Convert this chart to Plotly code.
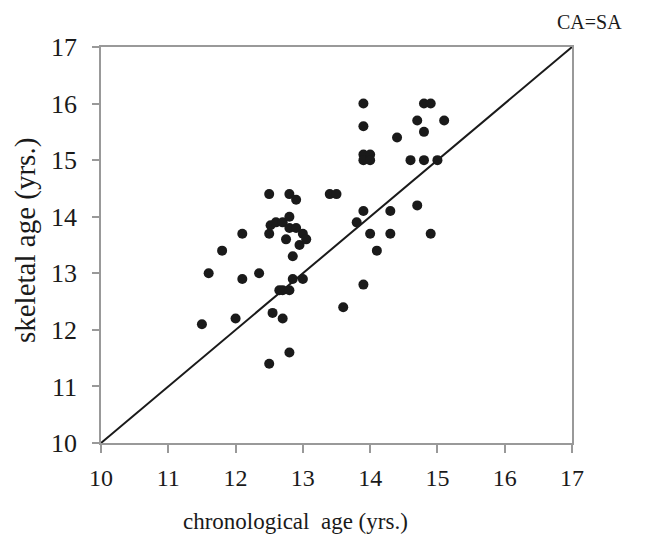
import plotly.graph_objects as go

chron_age = [11.5, 11.6, 11.8, 12.0, 12.1, 12.1, 12.35, 12.5, 12.5, 12.55,
             12.5, 12.52, 12.6, 12.7, 12.65, 12.7, 12.8, 12.7, 12.75, 12.8,
             12.8, 12.8, 12.8, 12.85, 12.85, 12.9, 12.9, 12.95, 13.0, 13.0,
             13.05, 13.4, 13.5, 13.6, 13.8, 13.9, 13.9, 13.9, 14.0, 13.9,
             14.0, 13.9, 13.9, 14.0, 14.1, 14.3, 14.3, 14.4, 14.6, 14.7,
             14.7, 14.8, 14.9, 14.8, 14.8, 15.0, 15.1, 14.9]
skel_age = [12.1, 13.0, 13.4, 12.2, 12.9, 13.7, 13.0, 14.4, 11.4, 12.3,
            13.7, 13.85, 13.9, 13.9, 12.7, 12.7, 12.7, 12.2, 13.6, 14.4,
            14.0, 13.8, 11.6, 12.9, 13.3, 14.3, 13.8, 13.5, 13.7, 12.9,
            13.6, 14.4, 14.4, 12.4, 13.9, 16.0, 15.6, 15.1, 15.1, 15.0,
            15.0, 14.1, 12.8, 13.7, 13.4, 14.1, 13.7, 15.4, 15.0, 15.7,
            14.2, 16.0, 16.0, 15.5, 15.0, 15.0, 15.7, 13.7]
identity = [10, 17]
ticks = [10, 11, 12, 13, 14, 15, 16, 17]

font = "Liberation Serif, Times New Roman, serif"
ink = "#1a1a1a"

fig = go.Figure()
fig.add_trace(go.Scatter(x=identity, y=identity, mode="lines",
                         line=dict(color=ink, width=2), showlegend=False))
fig.add_trace(go.Scatter(x=chron_age, y=skel_age, mode="markers",
                         marker=dict(color=ink, size=10), showlegend=False))

axis_common = dict(range=[10, 17], tickvals=ticks, showgrid=False, zeroline=False,
                   showline=True, linecolor="#999999", linewidth=1.5, mirror=True,
                   ticks="outside", tickcolor="#999999", tickwidth=1.5)
fig.update_xaxes(**axis_common, ticklen=8, ticklabelstandoff=4,
                 tickfont=dict(family=font, size=24, color=ink))
fig.update_yaxes(**axis_common, ticklen=7, ticklabelstandoff=10,
                 tickfont=dict(family=font, size=26, color=ink))

fig.add_annotation(x=0.414, y=0, xref="paper", yref="paper", yshift=-78,
                   text="chronological  age (yrs.)", showarrow=False,
                   xanchor="center", yanchor="middle",
                   font=dict(family=font, size=23, color=ink))
fig.add_annotation(x=0, y=0.51, xref="paper", yref="paper", xshift=-76,
                   text="skeletal age (yrs.)", showarrow=False, textangle=-90,
                   xanchor="center", yanchor="middle",
                   font=dict(family=font, size=29, color=ink))
fig.add_annotation(x=1, y=1, xref="paper", yref="paper", xshift=17, yshift=25,
                   text="CA=SA", showarrow=False,
                   xanchor="center", yanchor="middle",
                   font=dict(family=font, size=20, color=ink))

fig.update_layout(width=657, height=535, plot_bgcolor="white", paper_bgcolor="white",
                  margin=dict(l=93, r=93, t=39, b=100))

fig.write_html("out.html")
